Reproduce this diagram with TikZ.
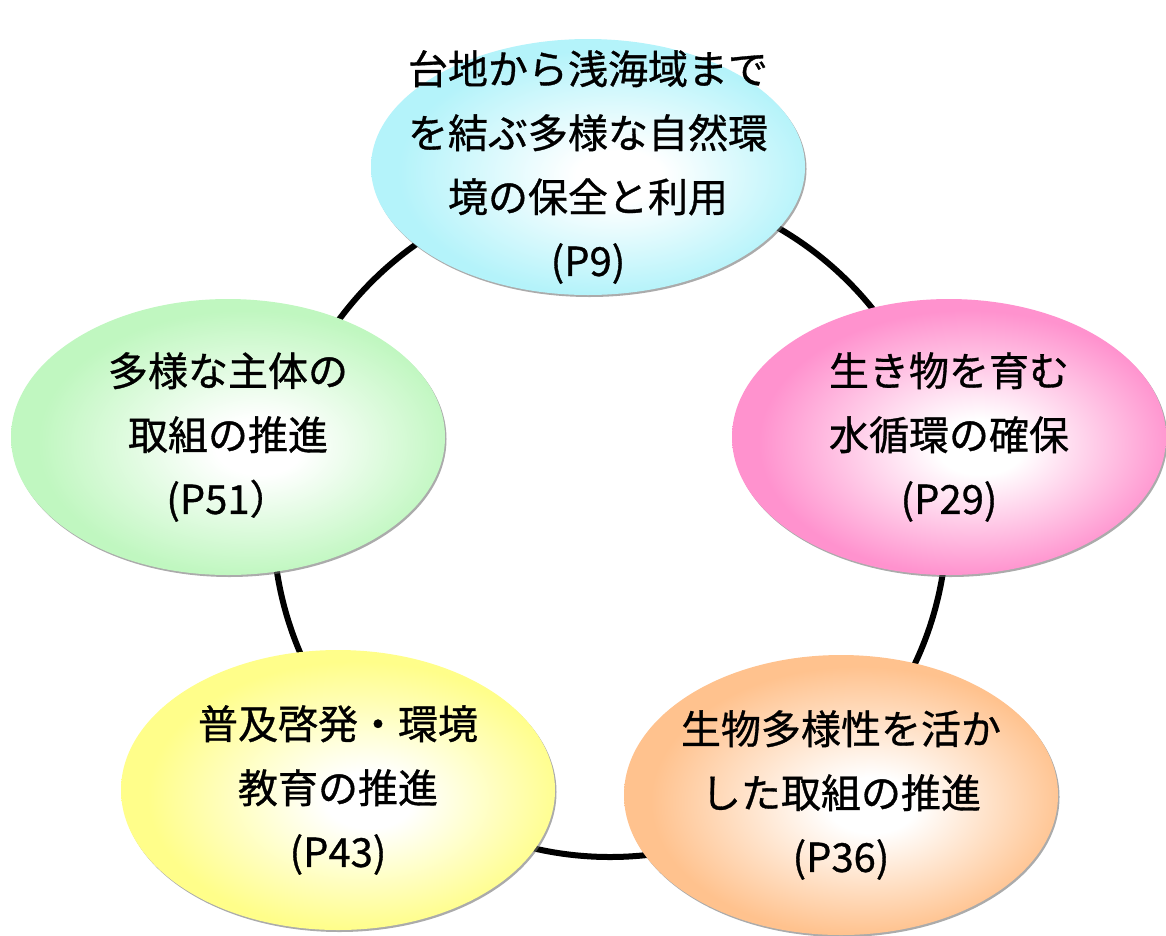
\documentclass[tikz,border=0pt]{standalone}
\usepackage{fontspec}
\setmainfont{Noto Sans CJK JP}[FakeBold=0.8]
\usetikzlibrary{shapes,shadows}

\definecolor{seacyan}{RGB}{180,243,250}
\definecolor{waterpink}{RGB}{255,146,206}
\definecolor{lifepeach}{RGB}{255,194,142}
\definecolor{eduyellow}{RGB}{255,254,138}
\definecolor{actgreen}{RGB}{192,247,192}

\colorlet{glowcol}{white}
\pgfdeclareradialshading[glowcol]{glow}{\pgfpoint{4bp}{-2bp}}{color(0bp)=(white); color(5bp)=(white); color(24bp)=(glowcol); color(25bp)=(glowcol); color(50bp)=(glowcol)}

\tikzstyle{bubble} = [ellipse, minimum width=434pt, minimum height=276pt, inner xsep=-80pt, inner ysep=-90pt, align=center, font=\fontsize{40}{64}\selectfont, drop shadow={shadow xshift=1.5pt, shadow yshift=-2pt, fill=black!55, opacity=0.6}]
\tikzstyle{ring} = [line width=6pt]
\tikzset{tint/.code={\colorlet{glowcol}{#1}\tikzset{shade, shading=glow}}}

\begin{document}
\begin{tikzpicture}[x=1pt, y=-1pt]
    \useasboundingbox (0,0) rectangle (1166,935);

    % The ring runs behind all the ellipses
    \coordinate (hub) at (610,520);
    \draw [ring] (hub) circle (337pt);

    % Then we place the ellipses round it
    \node [bubble, tint=seacyan, minimum height=256pt] (conserve) at (588,167) {台地から浅海域まで\\を結ぶ多様な自然環\\境の保全と利用\\(P9)};
    \node [bubble, tint=waterpink] (water) at (949,437) {生き物を育む\\水循環の確保\\(P29)};
    \node [bubble, tint=lifepeach, minimum height=280pt] (biodiv) at (841,795) {生物多様性を活か\\した取組の推進\\(P36)};
    \node [bubble, tint=eduyellow, minimum height=280pt] (edu) at (338,790) {普及啓発・環境\\教育の推進\\(P43)};
    \node [bubble, tint=actgreen] (actors) at (228,437) {多様な主体の\\取組の推進\\(P51）};

\end{tikzpicture}
\end{document}
